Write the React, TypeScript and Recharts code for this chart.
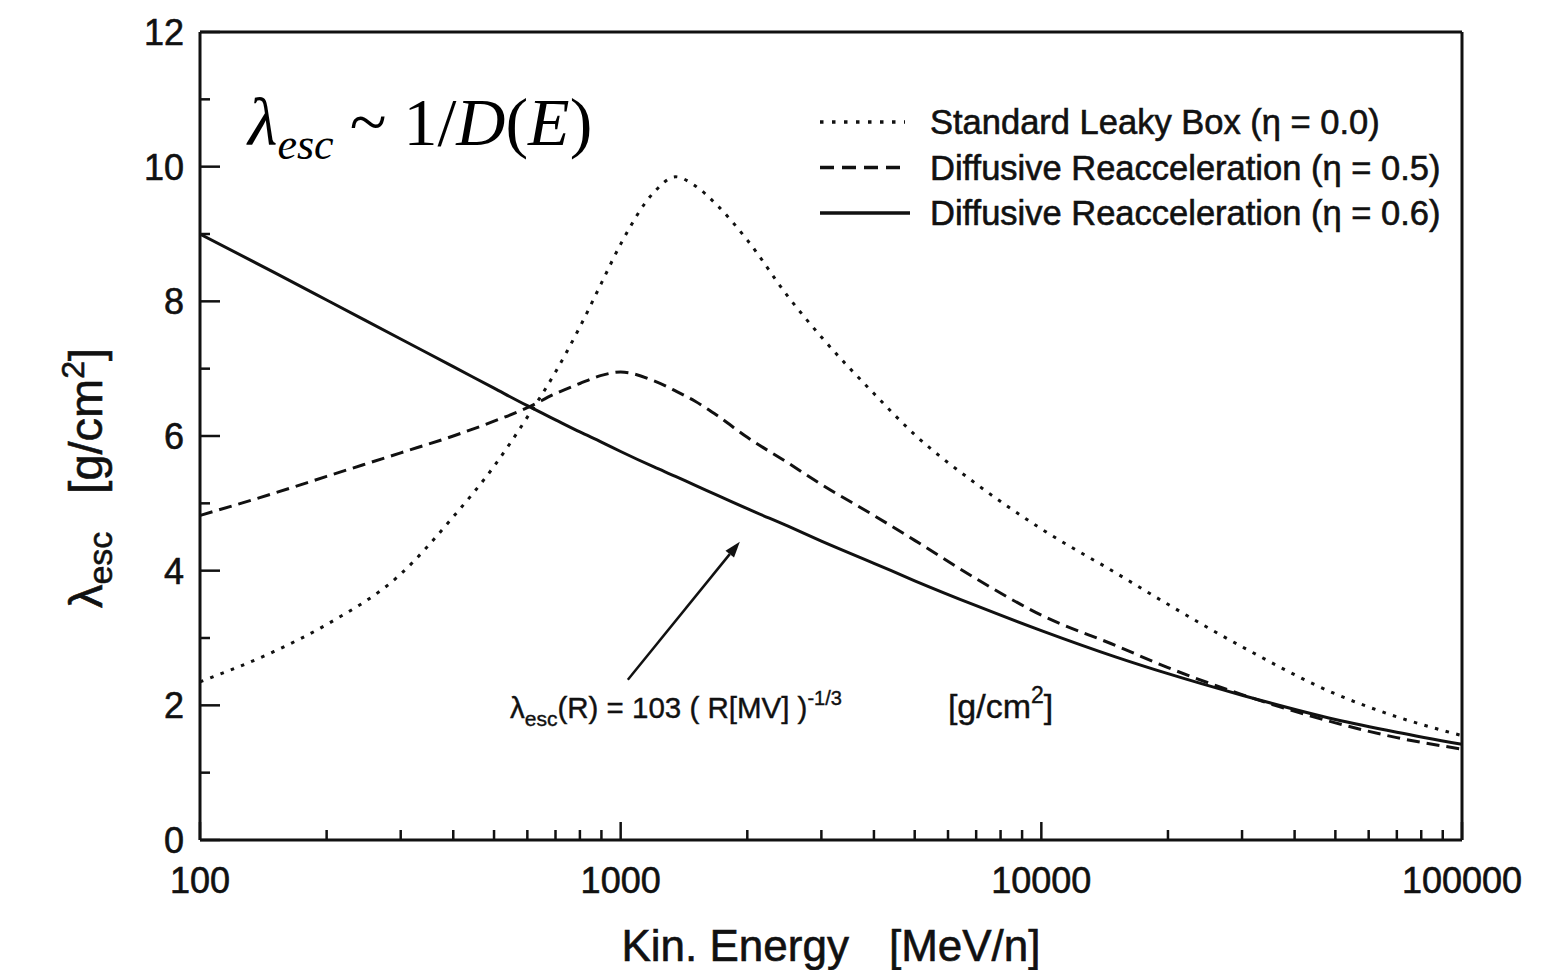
import React from 'react';
import { LineChart, Line, XAxis, YAxis, Legend, ReferenceLine } from 'recharts';

// kinetic energy grid [MeV/n]
const energy = [100, 150, 200, 300, 400, 500, 600, 700, 800, 900, 1000, 1200, 1350, 1500, 1700, 2000, 2500, 3000, 4000, 5000, 7000, 10000, 15000, 20000, 30000, 50000, 70000, 100000];

// escape path length [g/cm^2]
const leakyBox = [2.35, 2.8, 3.2, 3.95, 4.8, 5.55, 6.28, 6.95, 7.62, 8.27, 8.85, 9.62, 9.85, 9.72, 9.42, 8.91, 8.07, 7.47, 6.63, 6.02, 5.29, 4.62, 3.97, 3.5, 2.87, 2.17, 1.83, 1.55];
const reaccel05 = [4.82, 5.15, 5.4, 5.75, 6.0, 6.22, 6.42, 6.63, 6.78, 6.9, 6.95, 6.82, 6.67, 6.52, 6.3, 5.98, 5.6, 5.28, 4.82, 4.45, 3.88, 3.34, 2.89, 2.56, 2.16, 1.74, 1.52, 1.35];
const reaccel06 = [9.0, 8.43, 8.02, 7.44, 7.03, 6.71, 6.45, 6.24, 6.06, 5.91, 5.77, 5.54, 5.4, 5.27, 5.12, 4.92, 4.66, 4.44, 4.11, 3.85, 3.48, 3.11, 2.72, 2.47, 2.15, 1.79, 1.6, 1.42];

const seriesKeys = ['leaky', 'reacc05', 'reacc06'];
const seriesNames = ['Standard Leaky Box (η = 0.0)', 'Diffusive Reacceleration (η = 0.5)', 'Diffusive Reacceleration (η = 0.6)'];

const xMajor = [100, 1000, 10000, 100000];
const xTicks = [100, 200, 300, 400, 500, 600, 700, 800, 900, 1000, 2000, 3000, 4000, 5000, 6000, 7000, 8000, 9000, 10000, 20000, 30000, 40000, 50000, 60000, 70000, 80000, 90000, 100000];
const yTicks = [0, 1, 2, 3, 4, 5, 6, 7, 8, 9, 10, 11, 12];
const yLabels = [0, 2, 4, 6, 8, 10, 12];

// arrow pointing at the solid curve: [energy, lambda] of tail and head
const arrowTail = [1040, 2.38];
const arrowHead = [1920, 4.43];

const data = energy.map((e, i) => ({
  e,
  leaky: leakyBox[i],
  reacc05: reaccel05[i],
  reacc06: reaccel06[i],
}));

const INK = '#111';
const SANS = '"Liberation Sans", Arial, Helvetica, sans-serif';
const SERIF = '"Liberation Serif", "Times New Roman", serif';
const dashes: Record<string, string | undefined> = { leaky: '3.5 7.5', reacc05: '13 7', reacc06: undefined };
const legendDashes: Record<string, string | undefined> = { leaky: '3.5 8.5', reacc05: '14 8', reacc06: undefined };
const bold = { stroke: INK, strokeWidth: 0.6 };

const BottomTick = (props: any) => {
  const { x, y, payload } = props;
  const major = xMajor.includes(payload.value);
  return (
    <g>
      <line x1={x} x2={x} y1={y} y2={y - (major ? 18 : 10)} stroke={INK} strokeWidth={2.5} />
      {major && (
        <text x={x} y={y + 53} textAnchor="middle" fontSize={36} fontFamily={SANS} fill={INK} {...bold}>
          {payload.value}
        </text>
      )}
    </g>
  );
};

const TopTick = (props: any) => {
  const { x, y, payload } = props;
  const major = xMajor.includes(payload.value);
  return <line x1={x} x2={x} y1={y} y2={y + (major ? 18 : 10)} stroke={INK} strokeWidth={2.5} />;
};

const LeftTick = (props: any) => {
  const { x, y, payload } = props;
  const major = yLabels.includes(payload.value);
  return (
    <g>
      <line x1={x} x2={x + (major ? 20 : 10)} y1={y} y2={y} stroke={INK} strokeWidth={2.5} />
      {major && (
        <text x={x - 16} y={y + 13} textAnchor="end" fontSize={36} fontFamily={SANS} fill={INK} {...bold}>
          {payload.value}
        </text>
      )}
    </g>
  );
};

const RightTick = (props: any) => {
  const { x, y, payload } = props;
  const major = yLabels.includes(payload.value);
  return <line x1={x} x2={x - (major ? 20 : 10)} y1={y} y2={y} stroke={INK} strokeWidth={2.5} />;
};

const renderLegend = () => (
  <svg width={700} height={140}>
    {seriesKeys.map((k, i) => (
      <g key={k}>
        <line x1={10} x2={k === 'reacc06' ? 100 : 95} y1={27 + i * 45.5} y2={27 + i * 45.5} stroke={INK} strokeWidth={3.5} strokeDasharray={legendDashes[k]} />
        <text x={120} y={39 + i * 45.5} fontSize={34.5} fontFamily={SANS} fill={INK} {...bold}>
          {seriesNames[i]}
        </text>
      </g>
    ))}
  </svg>
);

const Arrow = (props: any) => {
  const { x1, y1, x2, y2 } = props;
  const ang = Math.atan2(y2 - y1, x2 - x1);
  const len = 16;
  const w = 5.5;
  const bx = x2 - len * Math.cos(ang);
  const by = y2 - len * Math.sin(ang);
  const px = -Math.sin(ang) * w;
  const py = Math.cos(ang) * w;
  return (
    <g>
      <line x1={x1} y1={y1} x2={bx} y2={by} stroke={INK} strokeWidth={2.5} />
      <polygon points={`${x2},${y2} ${bx + px},${by + py} ${bx - px},${by - py}`} fill={INK} />
    </g>
  );
};

export default function App() {
  return (
    <div style={{ position: 'absolute', left: 0, top: 0, width: 1552, height: 970, background: '#fff' }}>
      <LineChart width={1552} height={970} data={data} margin={{ top: 22, right: 80, bottom: 70, left: 120 }}>
        <XAxis
          dataKey="e"
          type="number"
          scale="log"
          domain={[100, 100000]}
          allowDataOverflow
          ticks={xTicks}
          interval={0}
          tick={BottomTick}
          tickLine={false}
          tickSize={0}
          tickMargin={0}
          height={60}
          axisLine={{ stroke: INK, strokeWidth: 3 }}
        />
        <XAxis
          xAxisId="top"
          orientation="top"
          type="number"
          scale="log"
          domain={[100, 100000]}
          allowDataOverflow
          ticks={xTicks}
          interval={0}
          tick={TopTick}
          tickLine={false}
          tickSize={0}
          tickMargin={0}
          height={10}
          axisLine={{ stroke: INK, strokeWidth: 3 }}
        />
        <YAxis
          type="number"
          domain={[0, 12]}
          ticks={yTicks}
          interval={0}
          tick={LeftTick}
          tickLine={false}
          tickSize={0}
          tickMargin={0}
          width={80}
          axisLine={{ stroke: INK, strokeWidth: 3 }}
        />
        <YAxis
          yAxisId="right"
          orientation="right"
          type="number"
          domain={[0, 12]}
          ticks={yTicks}
          interval={0}
          tick={RightTick}
          tickLine={false}
          tickSize={0}
          tickMargin={0}
          width={10}
          axisLine={{ stroke: INK, strokeWidth: 3 }}
        />
        <Legend
          layout="horizontal"
          align="center"
          verticalAlign="middle"
          content={renderLegend}
          wrapperStyle={{ position: 'absolute', left: 810, top: 95, width: 700, height: 140 }}
        />
        {seriesKeys.map((k, i) => (
          <Line
            key={k}
            dataKey={k}
            name={seriesNames[i]}
            type="monotone"
            stroke={INK}
            strokeWidth={3}
            strokeDasharray={dashes[k]}
            dot={false}
            activeDot={false}
            isAnimationActive={false}
          />
        ))}
        <ReferenceLine
          segment={[
            { x: arrowTail[0], y: arrowTail[1] },
            { x: arrowHead[0], y: arrowHead[1] },
          ]}
          shape={Arrow}
        />
      </LineChart>

      <svg width={1552} height={970} style={{ position: 'absolute', left: 0, top: 0, pointerEvents: 'none' }}>
        <text x={248} y={145} fontFamily={SERIF} fontSize={68} fill="#000">
          <tspan fontStyle="italic">λ</tspan>
          <tspan fontStyle="italic" fontSize={44} dy={14}>esc</tspan>
          <tspan dy={-14} dx={16}>~ 1/</tspan>
          <tspan fontStyle="italic">D</tspan>
          <tspan>(</tspan>
          <tspan fontStyle="italic">E</tspan>
          <tspan>)</tspan>
        </text>

        <text x={510} y={718} fontFamily={SANS} fontSize={29.5} fill={INK} {...bold} strokeWidth={0.4}>
          <tspan>λ</tspan>
          <tspan fontSize={21} dy={8}>esc</tspan>
          <tspan dy={-8}>(R) = 103 ( R[MV] )</tspan>
          <tspan fontSize={20} dy={-13}>-1/3</tspan>
          <tspan dy={13} dx={106} fontSize={34}>[g/cm</tspan>
          <tspan fontSize={23} dy={-15}>2</tspan>
          <tspan dy={15} fontSize={34}>]</tspan>
        </text>

        <text x={831} y={961} textAnchor="middle" fontFamily={SANS} fontSize={44} fill={INK} {...bold}>
          <tspan>Kin. Energy</tspan>
          <tspan dx={40}>[MeV/n]</tspan>
        </text>

        <text transform="translate(102, 478) rotate(-90)" textAnchor="middle" fontFamily={SANS} fontSize={47} fill={INK} {...bold}>
          <tspan>λ</tspan>
          <tspan fontSize={34} dy={10}>esc</tspan>
          <tspan dy={-10} dx={38}>[g/cm</tspan>
          <tspan fontSize={32} dy={-18}>2</tspan>
          <tspan dy={18}>]</tspan>
        </text>
      </svg>
    </div>
  );
}
